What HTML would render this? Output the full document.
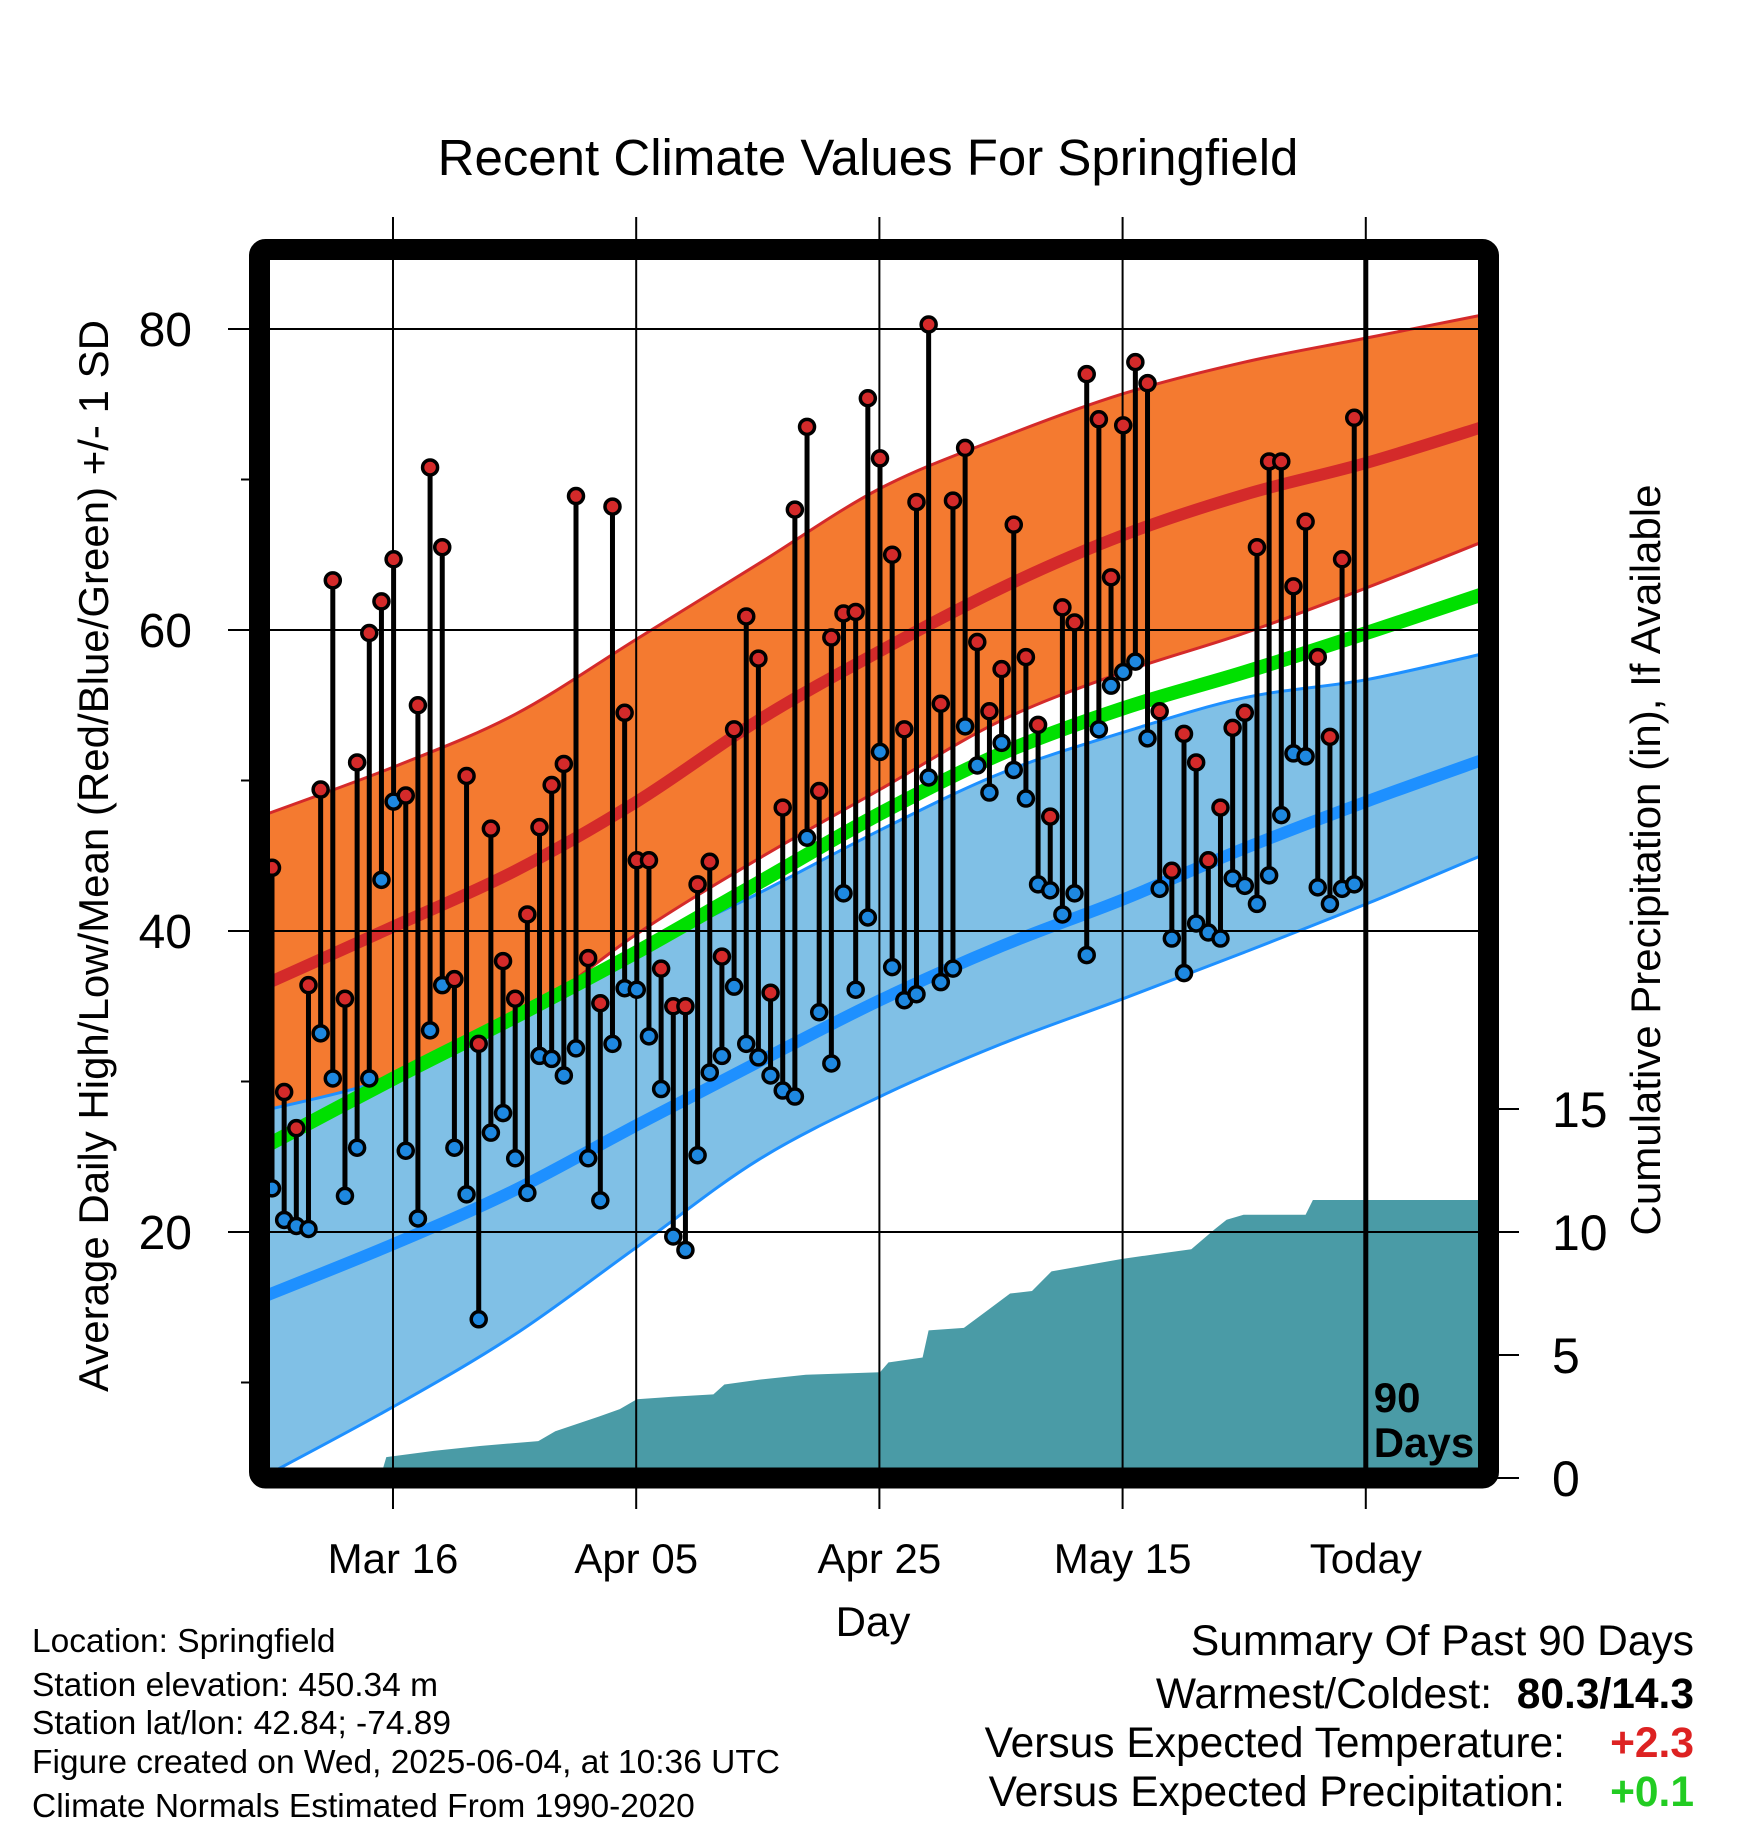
<!DOCTYPE html>
<html><head><meta charset="utf-8"><style>
html,body{margin:0;padding:0;background:#fff;}
svg{display:block;font-family:"Liberation Sans",sans-serif;}
</style></head><body>
<svg id="chart" width="1748" height="1828" viewBox="0 0 1748 1828" xmlns="http://www.w3.org/2000/svg">
<defs><clipPath id="plotclip"><rect x="259" y="249" width="1230" height="1229"/></clipPath></defs>
<text x="868" y="175" text-anchor="middle" font-size="51">Recent Climate Values For Springfield</text>
<g id="plot" clip-path="url(#plotclip)"></g>
<g id="grid"></g>
<g id="over"></g>
<text transform="translate(108,856) rotate(-90)" text-anchor="middle" font-size="42">Average Daily High/Low/Mean (Red/Blue/Green) +/- 1 SD</text>
<text transform="translate(1660,860) rotate(-90)" text-anchor="middle" font-size="42">Cumulative Precipitation (in), If Available</text>
<text x="873" y="1636" text-anchor="middle" font-size="42">Day</text>
<g font-size="33.5">
<text x="32" y="1652">Location: Springfield</text>
<text x="32" y="1696">Station elevation: 450.34 m</text>
<text x="32" y="1734">Station lat/lon: 42.84; -74.89</text>
<text x="32" y="1773">Figure created on Wed, 2025-06-04, at 10:36 UTC</text>
<text x="32" y="1817">Climate Normals Estimated From 1990-2020</text>
</g>
<g font-size="42.5">
<text x="1694" y="1655" text-anchor="end">Summary Of Past 90 Days</text>
<text x="1492" y="1708" text-anchor="end">Warmest/Coldest:</text>
<text x="1694" y="1708" text-anchor="end" font-weight="bold">80.3/14.3</text>
<text x="1565" y="1757" text-anchor="end">Versus Expected Temperature:</text>
<text x="1694" y="1757" text-anchor="end" font-weight="bold" fill="#dd2222">+2.3</text>
<text x="1565" y="1806" text-anchor="end">Versus Expected Precipitation:</text>
<text x="1694" y="1806" text-anchor="end" font-weight="bold" fill="#22cc22">+0.1</text>
</g>
</svg>
<script>
const highs=[44.2,29.3,26.9,36.4,49.4,63.3,35.5,51.2,59.8,61.9,64.7,49.0,55.0,70.8,65.5,36.8,50.3,32.5,46.8,38.0,35.5,41.1,46.9,49.7,51.1,68.9,38.2,35.2,68.2,54.5,44.7,44.7,37.5,35.0,35.0,43.1,44.6,38.3,53.4,60.9,58.1,35.9,48.2,68.0,73.5,49.3,59.5,61.1,61.2,75.4,71.4,65.0,53.4,68.5,80.3,55.1,68.6,72.1,59.2,54.6,57.4,67.0,58.2,53.7,47.6,61.5,60.5,77.0,74.0,63.5,73.6,77.8,76.4,54.6,44.0,53.1,51.2,44.7,48.2,53.5,54.5,65.5,71.2,71.2,62.9,67.2,58.2,52.9,64.7,74.1];
const lows=[22.9,20.8,20.4,20.2,33.2,30.2,22.4,25.6,30.2,43.4,48.6,25.4,20.9,33.4,36.4,25.6,22.5,14.2,26.6,27.9,24.9,22.6,31.7,31.5,30.4,32.2,24.9,22.1,32.5,36.2,36.1,33.0,29.5,19.7,18.8,25.1,30.6,31.7,36.3,32.5,31.6,30.4,29.4,29.0,46.2,34.6,31.2,42.5,36.1,40.9,51.9,37.6,35.4,35.8,50.2,36.6,37.5,53.6,51.0,49.2,52.5,50.7,48.8,43.1,42.7,41.1,42.5,38.4,53.4,56.3,57.2,57.9,52.8,42.8,39.5,37.2,40.5,39.9,39.5,43.5,43.0,41.8,43.7,47.7,51.8,51.6,42.9,41.8,42.8,43.1];
const normDays=[-1,10,20,30,40,50,60,70,80,90,100];
const hiUpper=[47.6,50.9,54.4,59.4,64.4,69.4,72.8,75.7,77.8,79.4,81.0];
const hiMean=[36.3,40.3,44.0,48.6,54.0,58.6,62.8,66.3,69.0,71.1,73.6];
const hiLower=[27.6,30.2,34.0,39.8,44.8,49.4,54.0,57.2,59.8,62.8,66.0];
const avgMean=[25.5,30.2,34.3,38.6,43.2,47.8,51.8,54.8,57.2,59.8,62.5];
const loUpper=[28.0,30.3,34.0,38.6,42.5,46.7,50.5,53.2,55.5,56.7,58.5];
const loMean=[15.6,19.2,22.8,27.1,31.3,35.4,39.0,42.1,45.5,48.6,51.5];
const loLower=[3.6,8.4,13.2,19.0,24.8,29.0,32.5,35.5,38.6,41.8,45.2];
const precipDays=[8.9,9.4,13.3,17.1,21.9,23.3,26.9,28.6,30.0,32.9,36.3,37.2,40.1,43.9,50.0,50.7,53.5,54.0,56.9,58.8,60.7,62.5,64.1,69.8,72.7,75.6,77.5,78.5,79.9,85.0,85.6,101];
const precipCum=[0,0.85,1.1,1.3,1.5,1.9,2.5,2.8,3.2,3.3,3.4,3.8,4.0,4.2,4.3,4.7,4.9,6.0,6.1,6.8,7.5,7.6,8.4,8.9,9.1,9.3,10.1,10.5,10.7,10.7,11.3,11.3];
const tempTicks=[20,40,60,80];
const tempMinor=[10,30,50,70];
const precipTicks=[0,5,10,15];
const dateLabels=["Mar 16","Apr 05","Apr 25","May 15","Today"];
const dateTickDays=[9.95,29.95,49.95,69.95,89.95];

const NS="http://www.w3.org/2000/svg";
const X0=272, DX=12.16;
function xS(d){return X0+d*DX;}
function yT(t){return 329+(80-t)*15.05;}
function yP(p){return 1478-p*24.6;}
function mk(tag,attrs,parent){const e=document.createElementNS(NS,tag);for(const k in attrs)e.setAttribute(k,attrs[k]);parent.appendChild(e);return e;}
const plot=document.getElementById('plot');
const grid=document.getElementById('grid');
const over=document.getElementById('over');
const svg=document.getElementById('chart');
function crPath(P,start){
  let d=(start?'M':'L')+P[0][0].toFixed(1)+','+P[0][1].toFixed(1);
  for(let i=0;i<P.length-1;i++){
    const p0=P[Math.max(i-1,0)],p1=P[i],p2=P[i+1],p3=P[Math.min(i+2,P.length-1)];
    const c1=[p1[0]+(p2[0]-p0[0])/6,p1[1]+(p2[1]-p0[1])/6];
    const c2=[p2[0]-(p3[0]-p1[0])/6,p2[1]-(p3[1]-p1[1])/6];
    d+='C'+c1[0].toFixed(1)+','+c1[1].toFixed(1)+' '+c2[0].toFixed(1)+','+c2[1].toFixed(1)+' '+p2[0].toFixed(1)+','+p2[1].toFixed(1);
  }
  return d;
}
function pts(arr){return normDays.map((d,i)=>[xS(d),yT(arr[i])]);}
function band(up,lo,fill,name){
  const d=crPath(pts(up),true)+crPath(pts(lo).reverse(),false)+'Z';
  const e=mk('path',{d:d,fill:fill},plot);
  
  
}
function line(arr,color,w,name){
  const e=mk('path',{d:crPath(pts(arr),true),fill:'none',stroke:color,'stroke-width':w},plot);
  
  
}
band(hiUpper,hiLower,'#f47a30','high-sd-band');
line(hiUpper,'#d42a2a',3,'high-upper-edge');
line(hiLower,'#d42a2a',3,'high-lower-edge');
band(loUpper,loLower,'#80c0e6','low-sd-band');
line(loUpper,'#1e90ff',3,'low-upper-edge');
line(loLower,'#1e90ff',3,'low-lower-edge');
line(avgMean,'#00e000',14,'mean-normal-line');
line(hiMean,'#d42a2a',12,'high-normal-line');
line(loMean,'#1e90ff',12,'low-normal-line');
{
  const p=[xS(precipDays[0]).toFixed(1)+','+yP(0)];
  precipDays.forEach((d,i)=>p.push(xS(d).toFixed(1)+','+yP(precipCum[i]).toFixed(1)));
  p.push(xS(precipDays[precipDays.length-1]).toFixed(1)+','+yP(0));
  const e=mk('polygon',{points:p.join(' '),fill:'#4a9ba6'},plot);
  
  
}
tempTicks.forEach(t=>{
  const e=mk('line',{x1:228,x2:1489,y1:yT(t),y2:yT(t),stroke:'#000','stroke-width':2},grid);
  
  
  const l=mk('text',{x:192,y:yT(t)+17,'text-anchor':'end','font-size':48},svg);
  l.textContent=t;
  
  
});
tempMinor.forEach(t=>{
  const e=mk('line',{x1:241,x2:259,y1:yT(t),y2:yT(t),stroke:'#000','stroke-width':2},svg);
  
  
});
dateTickDays.forEach((d,i)=>{
  const x=xS(d);
  const e=mk('line',{x1:x,x2:x,y1:217,y2:1509,stroke:'#000','stroke-width':2},grid);
  
  
  const l=mk('text',{x:x,y:1573,'text-anchor':'middle','font-size':42},svg);
  l.textContent=dateLabels[i];
  
  
});
precipTicks.forEach(p=>{
  const e=mk('line',{x1:1489,x2:1519,y1:yP(p),y2:yP(p),stroke:'#000','stroke-width':2},svg);
  
  
  const l=mk('text',{x:1552,y:yP(p)+18,'font-size':50},svg);
  l.textContent=p;
  
  
});
highs.forEach((h,i)=>{
  const x=xS(i);
  const s=mk('line',{x1:x,x2:x,y1:yT(h),y2:yT(lows[i]),stroke:'#000','stroke-width':5},over);
  
  
});
highs.forEach((h,i)=>{
  const x=xS(i);
  const a=mk('circle',{cx:x,cy:yT(h),r:7.5,fill:'#d42a2a',stroke:'#000','stroke-width':3.5},over);
  
  
  const b=mk('circle',{cx:x,cy:yT(lows[i]),r:7.5,fill:'#1e88e0',stroke:'#000','stroke-width':3.5},over);
  
  
});
{
  const x=xS(dateTickDays[4]);
  const e=mk('line',{x1:x,x2:x,y1:249,y2:1478,stroke:'#000','stroke-width':5},over);
  
  
  const t1=mk('text',{x:x+8,y:1412,'font-size':42,'font-weight':'bold'},over);
  t1.textContent='90';
  
  
  const t2=mk('text',{x:x+8,y:1457,'font-size':42,'font-weight':'bold'},over);
  t2.textContent='Days';
  
  
}
{
  const f=mk('rect',{x:259.5,y:249.5,width:1229,height:1228.5,fill:'none',stroke:'#000','stroke-width':21,rx:6},over);
  
  
}
</script>
</body></html>
